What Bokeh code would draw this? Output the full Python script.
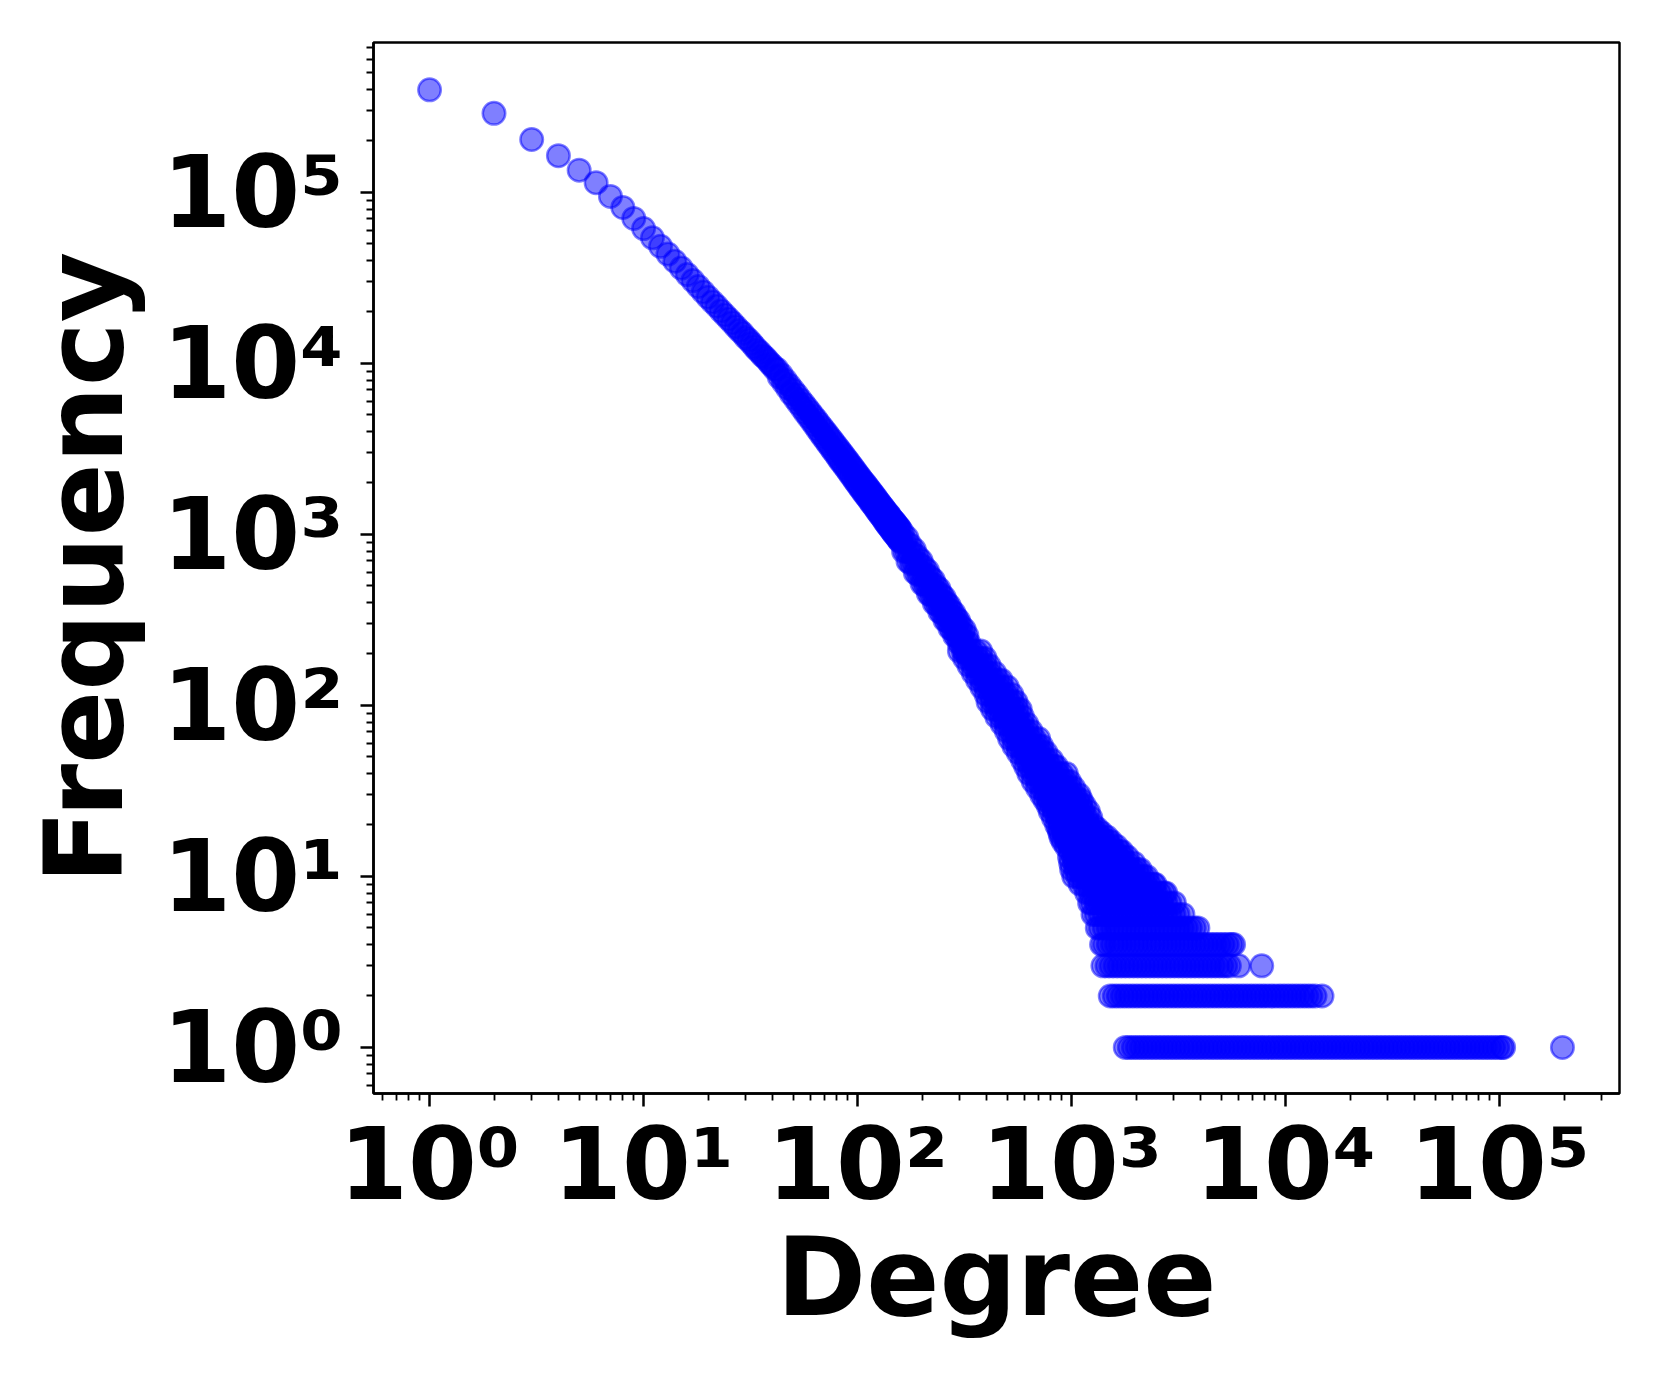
from bokeh.plotting import figure
from bokeh.models import Range1d, FixedTicker, ColumnDataSource, CustomJSTickFormatter
from bokeh.embed import file_html
from bokeh.resources import INLINE

# ---- data (degree -> frequency) ----
# upper curve, one point per degree
head_degree = [1, 2, 3, 4, 5, 6, 7, 8, 9, 10, 11, 12, 13, 14, 15, 16, 17, 18, 19, 20,
               21, 22, 23, 24, 25, 26, 27, 28, 29, 30, 31, 32, 33, 34, 35, 36, 37, 38, 39, 40]
head_freq = [398000, 290000, 204000, 164000, 135000, 114000, 94800, 81700, 70500, 61500,
             54300, 48400, 43600, 39600, 36100, 33100, 30500, 28200, 26200, 24400,
             22900, 21600, 20300, 19200, 18200, 17300, 16400, 15600, 15000, 14200,
             13700, 13100, 12500, 12000, 11600, 11100, 10800, 10400, 10000, 9700]

# thin band, degrees 41-159
mid_degree = [41, 42, 43, 44, 45, 46, 47, 48, 49, 50, 51, 52, 53, 54, 55, 56, 57, 58, 59, 60,
              61, 62, 63, 64, 65, 66, 67, 68, 69, 70, 71, 72, 73, 74, 75, 76, 77, 78, 79, 80,
              81, 82, 83, 84, 85, 86, 87, 88, 89, 90, 91, 92, 93, 94, 95, 96, 97, 98, 99, 100,
              101, 102, 103, 104, 105, 106, 107, 108, 109, 110, 111, 112, 113, 114, 115, 116,
              117, 118, 119, 120, 121, 122, 123, 124, 125, 126, 127, 128, 129, 130, 131, 132,
              133, 134, 135, 136, 137, 138, 139, 140, 141, 142, 143, 144, 145, 146, 147, 148,
              149, 150, 151, 152, 153, 154, 155, 156, 157, 158, 159]
mid_freq = [9290, 9250, 8350, 8600, 7750, 7980, 7190, 7450, 6650, 6960, 6230, 6560, 5830, 6140,
            5480, 5800, 5150, 5490, 4860, 5200, 4600, 4930, 4350, 4690, 4110, 4450, 3900, 4240,
            3710, 4050, 3540, 3880, 3370, 3700, 3220, 3550, 3080, 3400, 2950, 3260, 2820, 3130,
            2700, 3010, 2600, 2900, 2500, 2790, 2410, 2690, 2320, 2590, 2230, 2500, 2150, 2410,
            2070, 2330, 2000, 2250, 1930, 2180, 1870, 2110, 1810, 2040, 1750, 1990, 1700, 1930,
            1650, 1870, 1600, 1820, 1550, 1770, 1510, 1720, 1470, 1670, 1430, 1630, 1380, 1580,
            1350, 1540, 1310, 1500, 1280, 1460, 1250, 1430, 1210, 1390, 1180, 1360, 1150, 1330,
            1120, 1300, 1100, 1270, 1070, 1240, 1050, 1210, 1020, 1190, 1000, 1170, 985, 1140,
            960, 1115, 940, 1095, 920, 1075, 905]

# widening band, degrees 160-330
upper_degree = [160, 162, 164, 166, 168, 170, 172, 174, 176, 178, 180, 182, 184, 186, 188, 190,
                192, 194, 196, 198, 200, 202, 204, 206, 208, 210, 212, 214, 216, 218, 220, 222,
                224, 226, 228, 230, 232, 234, 236, 238, 240, 242, 244, 246, 248, 250, 252, 254,
                256, 258, 260, 262, 264, 266, 268, 270, 272, 274, 276, 278, 280, 282, 284, 286,
                288, 290, 292, 294, 296, 298, 300, 303, 306, 309, 312, 315, 318, 321, 324, 327, 330]
upper_freq = [938, 1025, 795, 923, 800, 956, 697, 793, 868, 675, 785, 682, 815, 597, 679, 745,
              579, 676, 588, 704, 516, 588, 646, 504, 588, 512, 614, 451, 515, 566, 441, 516,
              450, 541, 397, 454, 500, 390, 457, 399, 480, 353, 403, 445, 347, 407, 355, 428,
              315, 361, 398, 312, 366, 319, 384, 283, 325, 358, 280, 330, 288, 347, 256, 294,
              325, 255, 299, 261, 315, 232, 267, 293, 229, 267, 232, 278, 204, 233, 256, 199, 233]

# scattered tail: for each frequency, the degrees seen with it
band_freq_levels = [4, 5, 6, 7, 8, 9, 10, 11, 12, 13, 14, 15, 16, 17, 18, 19, 20, 22, 24, 26,
                    28, 30, 33, 36, 40, 44, 48, 53, 58, 64, 71, 78, 86, 95, 105, 116, 128,
                    141, 155, 171, 189, 208]
band_degrees = [
    [1380, 1422, 1486, 1553, 1623, 1696, 1772, 1852, 1935, 2022, 2113, 2208, 2308, 2412, 2520,
     2634, 2752, 2876, 3005, 3141, 3282, 3430, 3584, 3745, 3914, 4090, 4274, 4466, 4667, 4877,
     5097, 5326, 5566, 5710],
    [1318, 1361, 1422, 1486, 1553, 1623, 1696, 1772, 1852, 1935, 2022, 2113, 2208, 2308, 2412,
     2520, 2634, 2752, 2876, 3005, 3141, 3282, 3430, 3584, 3745, 3890],
    [1259, 1302, 1361, 1422, 1486, 1553, 1623, 1696, 1772, 1852, 1935, 2022, 2113, 2208, 2308,
     2412, 2520, 2634, 2752, 2876, 3005, 3141, 3311],
    [1213, 1246, 1302, 1361, 1422, 1486, 1553, 1623, 1696, 1772, 1852, 1935, 2022, 2113, 2208,
     2308, 2412, 2520, 2634, 2752, 2876, 3020],
    [1175, 1220, 1270, 1330, 1390, 1455, 1520, 1590, 1660, 1735, 1812, 1893, 1978, 2067, 2160,
     2257, 2359, 2465, 2576, 2692, 2754],
    [1096, 1141, 1193, 1246, 1302, 1361, 1422, 1486, 1553, 1623, 1696, 1772, 1852, 1935, 2022,
     2113, 2208, 2308, 2412, 2455],
    [1023, 1068, 1116, 1166, 1219, 1274, 1331, 1391, 1453, 1519, 1587, 1659, 1733, 1811, 1893,
     1978, 2067, 2160, 2239],
    [1000, 1045, 1092, 1141, 1193, 1246, 1302, 1361, 1422, 1486, 1553, 1623, 1696, 1772, 1852,
     1935, 2022, 2089],
    [989, 1033, 1080, 1128, 1179, 1232, 1288, 1346, 1406, 1469, 1535, 1605, 1677, 1752, 1831, 1950],
    [977, 1021, 1067, 1115, 1165, 1218, 1273, 1330, 1390, 1452, 1518, 1586, 1658, 1732, 1820],
    [985, 1029, 1076, 1124, 1175, 1228, 1283, 1341, 1401, 1464, 1530, 1599, 1671, 1718],
    [944, 986, 1031, 1077, 1126, 1176, 1229, 1285, 1342, 1403, 1466, 1532, 1622],
    [912, 953, 996, 1041, 1088, 1137, 1188, 1241, 1297, 1356, 1417, 1480, 1531],
    [891, 931, 973, 1017, 1062, 1110, 1160, 1212, 1267, 1324, 1384, 1462],
    [881, 921, 962, 1005, 1051, 1098, 1147, 1199, 1253, 1309, 1380],
    [871, 910, 951, 994, 1039, 1085, 1134, 1185, 1239, 1318],
    [851, 889, 929, 971, 1015, 1061, 1108, 1158, 1210, 1259],
    [822, 860, 898, 939, 981, 1025, 1071, 1120, 1170, 1230],
    [794, 830, 867, 906, 947, 989, 1034, 1080, 1129, 1197],
    [776, 811, 847, 885, 925, 967, 1010, 1056, 1103, 1148],
    [750, 784, 819, 856, 894, 935, 977, 1021, 1067, 1109],
    [724, 757, 791, 826, 863, 902, 943, 985, 1030, 1084],
    [692, 723, 756, 790, 825, 862, 901, 942, 984, 1023],
    [661, 691, 722, 754, 788, 824, 861, 900, 940, 977],
    [631, 659, 689, 720, 752, 786, 822, 859, 897, 944],
    [610, 637, 666, 696, 727, 760, 794, 830, 851],
    [589, 616, 643, 672, 703, 734, 767, 807],
    [562, 587, 614, 641, 670, 700, 732, 759],
    [537, 561, 586, 613, 640, 669, 699, 724],
    [513, 536, 560, 585, 612, 639, 668, 701],
    [495, 517, 540, 565, 590, 617, 646],
    [473, 494, 517, 540, 564, 590, 617],
    [447, 467, 488, 510, 533, 557, 589],
    [427, 446, 466, 487, 509, 532, 556, 575],
    [407, 425, 444, 464, 485, 507, 530, 550],
    [398, 416, 435, 454, 475, 496, 525],
    [380, 397, 415, 434, 453, 474, 501],
    [363, 379, 396, 414, 433, 452, 468],
    [347, 363, 379, 396, 414, 437],
    [331, 346, 361, 378, 395, 412],
    [316, 330, 345, 360, 377, 394],
    [299, 312, 326, 341, 356, 376],
]

# the three lowest frequency rows
row3_degree = [1400, 1463, 1529, 1598, 1670, 1745, 1823, 1905, 1991, 2081, 2175, 2273, 2375,
               2482, 2594, 2710, 2832, 2960, 3093, 3232, 3378, 3530, 3688, 3854, 4028, 4209,
               4399, 4597, 4803, 5020, 5246, 5460, 6030, 7730]
row2_degree = [1515, 1583, 1654, 1729, 1807, 1888, 1973, 2062, 2155, 2252, 2353, 2459, 2570,
               2685, 2806, 2932, 3064, 3202, 3346, 3497, 3654, 3819, 3990, 4170, 4358, 4554,
               4759, 4973, 5197, 5431, 5675, 5930, 6197, 6476, 6768, 7072, 7391, 7723, 8071,
               8434, 8814, 9210, 9625, 10058, 10511, 10984, 11478, 11995, 12534, 13098, 13720,
               14790]
row1_degree = [1781, 1861, 1945, 2032, 2124, 2219, 2319, 2424, 2533, 2647, 2766, 2890, 3020,
               3156, 3298, 3447, 3602, 3764, 3933, 4110, 4295, 4489, 4691, 4902, 5122, 5353,
               5594, 5846, 6109, 6384, 6671, 6971, 7285, 7613, 7955, 8313, 8687, 9078, 9487,
               9914, 10360, 10826, 11313, 11822, 12354, 12910, 13491, 14098, 14733, 15396,
               16088, 16812, 17569, 18360, 19186, 20049, 20951, 21894, 22879, 23909, 24985,
               26109, 27284, 28512, 29795, 31136, 32537, 34001, 35531, 37130, 38801, 40547,
               42372, 44279, 46271, 48353, 50529, 52803, 55179, 57662, 60257, 62969, 65802,
               68763, 71858, 75091, 78470, 82002, 85692, 89548, 93578, 97789, 102189, 104300,
               196500]

major_ticks = [1, 10, 100, 1000, 10000, 100000]

# ---- assemble ----
xs = list(head_degree) + list(mid_degree) + list(upper_degree)
ys = list(head_freq) + list(mid_freq) + list(upper_freq)
for f, ds in zip(band_freq_levels, band_degrees):
    xs += ds
    ys += [f] * len(ds)
for f, ds in ((3, row3_degree), (2, row2_degree), (1, row1_degree)):
    xs += ds
    ys += [f] * len(ds)

src = ColumnDataSource(dict(degree=xs, frequency=ys))

x_range = Range1d(0.547, 363000)
y_range = Range1d(0.538, 753000)
p = figure(width=1645, height=1368, x_axis_type="log", y_axis_type="log",
           x_range=x_range, y_range=y_range,
           output_backend="svg", toolbar_location=None,
           min_border_left=373, min_border_right=26, min_border_top=42, min_border_bottom=275)

p.scatter("degree", "frequency", source=src, size=22.5, marker="circle",
          fill_color="blue", fill_alpha=0.5, line_color="blue", line_alpha=0.5, line_width=2.5)

FONT = "DejaVu Sans"
sup_formatter = CustomJSTickFormatter(code="""
const sup = {"0": "\u2070", "1": "\u00b9", "2": "\u00b2", "3": "\u00b3", "4": "\u2074",
             "5": "\u2075", "6": "\u2076", "7": "\u2077", "8": "\u2078", "9": "\u2079", "-": "\u207b"};
const e = Math.round(Math.log10(tick));
return "10" + String(e).split("").map((c) => sup[c]).join("");
""")

minor = [m * 10.0 ** k for k in range(-1, 6) for m in range(2, 10)]
for ax in (p.xaxis[0], p.yaxis[0]):
    ax.ticker = FixedTicker(ticks=major_ticks, minor_ticks=minor)
    ax.formatter = sup_formatter
    ax.axis_line_width = 2.5
    ax.axis_line_color = "black"
    ax.major_tick_line_width = 2.5
    ax.minor_tick_line_width = 1.8
    ax.major_tick_in = 0
    ax.major_tick_out = 13
    ax.minor_tick_in = 0
    ax.minor_tick_out = 7
    ax.major_label_text_font = FONT
    ax.major_label_text_font_style = "bold"
    ax.major_label_text_font_size = "99px"
    ax.major_label_text_color = "black"
    ax.axis_label_text_font = FONT
    ax.axis_label_text_font_style = "bold"
    ax.axis_label_text_font_size = "108px"
    ax.axis_label_text_color = "black"

p.xaxis.axis_label = "Degree"
p.yaxis.axis_label = "Frequency"
p.xaxis.major_label_standoff = 0
p.yaxis.major_label_standoff = 17
p.xaxis.axis_label_standoff = -10
p.yaxis.axis_label_standoff = 12

p.xgrid.visible = False
p.ygrid.visible = False
p.outline_line_color = "black"
p.outline_line_width = 2.5
p.outline_line_alpha = 1
p.background_fill_color = "white"
p.border_fill_color = "white"

open("out.html", "w").write(file_html(p, INLINE))
